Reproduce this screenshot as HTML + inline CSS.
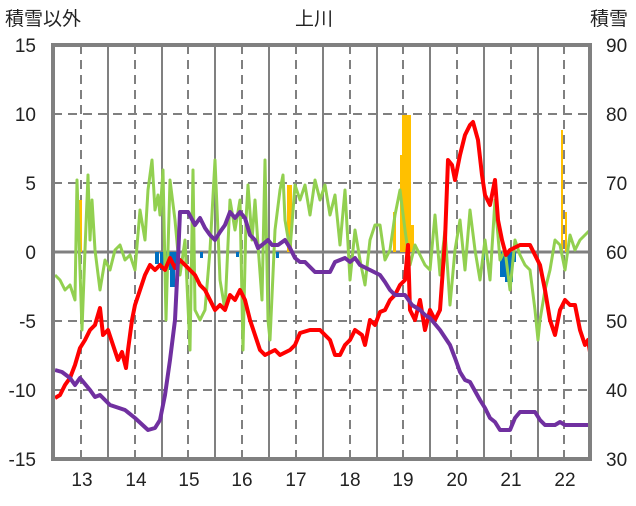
<!DOCTYPE html>
<html><head><meta charset="utf-8"><style>
body{margin:0;background:#fff;width:636px;height:501px;overflow:hidden}
svg text{font-family:"Liberation Sans","Noto Sans CJK JP",sans-serif;font-size:19px;fill:#222}
</style></head><body>
<svg width="636" height="501" xmlns="http://www.w3.org/2000/svg">
<g stroke="#808080" stroke-width="2">
<line x1="53" y1="114" x2="590" y2="114" stroke-dasharray="9,6"/>
<line x1="53" y1="183" x2="590" y2="183" stroke-dasharray="9,6"/>
<line x1="53" y1="321" x2="590" y2="321" stroke-dasharray="9,6"/>
<line x1="53" y1="390" x2="590" y2="390" stroke-dasharray="9,6"/>
<g stroke-dasharray="9,6">
<line x1="81" y1="45" x2="81" y2="459"/><line x1="135" y1="45" x2="135" y2="459"/><line x1="188" y1="45" x2="188" y2="459"/><line x1="242" y1="45" x2="242" y2="459"/><line x1="296" y1="45" x2="296" y2="459"/><line x1="350" y1="45" x2="350" y2="459"/><line x1="403" y1="45" x2="403" y2="459"/><line x1="457" y1="45" x2="457" y2="459"/><line x1="511" y1="45" x2="511" y2="459"/><line x1="564" y1="45" x2="564" y2="459"/>
</g>
<line x1="108" y1="45" x2="108" y2="459"/><line x1="162" y1="45" x2="162" y2="459"/><line x1="215" y1="45" x2="215" y2="459"/><line x1="269" y1="45" x2="269" y2="459"/><line x1="323" y1="45" x2="323" y2="459"/><line x1="377" y1="45" x2="377" y2="459"/><line x1="430" y1="45" x2="430" y2="459"/><line x1="484" y1="45" x2="484" y2="459"/><line x1="538" y1="45" x2="538" y2="459"/>
</g>
<line x1="53" y1="252" x2="590" y2="252" stroke="#808080" stroke-width="3"/>
<!-- bars -->
<g fill="#FFC000">
<rect x="79" y="200" width="3" height="52"/><rect x="287" y="185" width="5" height="67"/><rect x="393" y="212" width="3" height="40"/><rect x="400" y="155" width="3" height="97"/><rect x="402" y="115" width="9" height="137"/><rect x="411" y="225" width="3" height="27"/><rect x="561" y="130" width="2" height="122"/><rect x="565" y="212" width="2" height="40"/>
</g>
<g fill="#0070C0">
<rect x="155" y="252" width="4" height="12"/><rect x="160" y="252" width="10" height="18"/><rect x="170" y="252" width="5" height="35"/><rect x="175" y="252" width="4" height="12"/><rect x="200" y="252" width="3" height="6"/><rect x="236" y="252" width="3" height="5"/><rect x="276" y="252" width="3" height="6"/><rect x="482" y="252" width="3" height="8"/><rect x="500" y="252" width="5" height="25"/><rect x="505" y="252" width="8" height="30"/><rect x="513" y="252" width="3" height="10"/>
</g>
<polyline fill="none" stroke="#92D050" stroke-width="3" stroke-linejoin="round" points="55,275 60,280 65,290 70,285 75,300 77,180 80,270 82,330 85,250 88,175 90,240 92,200 95,250 100,290 105,260 110,270 115,250 120,245 125,260 130,255 135,270 140,210 145,240 148,190 152,160 155,210 158,195 160,215 163,170 166,320 170,180 175,220 180,275 185,240 190,350 193,170 195,310 200,320 205,310 210,250 215,160 220,280 225,310 230,200 235,230 240,200 243,350 246,220 248,185 252,240 255,200 258,245 262,300 265,160 268,320 270,340 275,230 280,190 283,175 285,220 290,250 295,185 300,200 305,185 310,215 315,180 320,200 325,185 330,215 335,195 340,245 345,190 350,280 355,230 360,260 365,285 370,240 375,225 380,225 385,260 390,250 395,215 400,190 405,230 410,265 415,245 420,255 425,265 430,270 435,215 440,275 445,230 450,305 455,250 460,220 465,270 470,210 475,250 480,280 485,240 490,280 495,200 500,260 505,250 510,290 515,240 520,255 525,265 530,270 535,310 538,340 540,320 545,290 550,270 555,240 560,245 565,270 570,235 575,250 580,240 585,235 590,230"/>
<polyline fill="none" stroke="#FF0000" stroke-width="4" stroke-linejoin="round" points="55,398 60,395 65,385 70,378 75,365 80,348 85,340 90,330 95,325 100,308 103,335 108,330 113,345 118,360 122,352 126,368 128,350 132,320 135,305 140,290 145,275 150,265 155,270 160,265 165,270 170,258 175,268 180,260 185,265 190,270 195,275 200,285 205,290 210,300 215,310 220,305 225,310 230,295 235,300 240,290 245,300 250,320 255,335 260,350 265,355 275,350 280,355 290,350 295,345 300,333 310,330 320,330 330,340 335,355 340,355 345,345 350,340 355,330 362,335 365,345 370,320 375,325 380,312 385,310 390,300 395,295 400,285 405,280 408,245 410,310 415,320 420,300 425,330 430,310 435,320 440,310 445,240 448,160 452,165 455,180 460,155 465,135 470,125 473,122 478,140 482,175 485,195 490,205 495,180 498,220 502,240 506,255 510,250 520,245 530,245 540,265 545,290 550,320 555,335 560,310 565,300 570,305 575,305 580,330 585,345 588,340 590,352"/>
<polyline fill="none" stroke="#7030A0" stroke-width="4" stroke-linejoin="round" points="55,370 62,372 70,378 75,385 80,378 90,390 95,397 100,395 110,405 125,410 135,418 148,430 155,428 160,420 165,395 170,360 175,320 178,260 180,212 188,212 195,225 200,218 205,228 210,235 215,240 220,232 225,225 230,212 235,218 240,212 245,218 250,235 255,240 258,248 262,245 268,240 272,245 278,245 285,240 290,248 295,258 300,262 305,262 315,272 330,272 335,262 345,258 350,262 355,258 360,265 370,270 380,275 385,282 390,290 395,295 405,295 412,305 420,310 425,315 430,318 440,330 450,345 455,358 460,372 465,380 470,382 480,400 485,408 490,418 495,422 500,430 505,430 510,430 515,418 520,412 535,412 540,420 545,425 555,425 560,422 565,425 590,425"/>
<rect x="53" y="45" width="537" height="414" fill="none" stroke="#808080" stroke-width="4"/>
<g text-anchor="end">
<text x="36" y="52">15</text><text x="36" y="121">10</text><text x="36" y="190">5</text><text x="36" y="259">0</text><text x="36" y="328">-5</text><text x="36" y="397">-10</text><text x="36" y="466">-15</text>
</g>
<g text-anchor="start">
<text x="606" y="52">90</text><text x="606" y="121">80</text><text x="606" y="190">70</text><text x="606" y="259">60</text><text x="606" y="328">50</text><text x="606" y="397">40</text><text x="606" y="466">30</text>
</g>
<g text-anchor="middle">
<text x="82" y="486">13</text><text x="136" y="486">14</text><text x="189" y="486">15</text><text x="242" y="486">16</text><text x="296" y="486">17</text><text x="350" y="486">18</text><text x="403" y="486">19</text><text x="457" y="486">20</text><text x="511" y="486">21</text><text x="565" y="486">22</text>
<text x="314" y="25">上川</text>
</g>
<text x="5" y="25">積雪以外</text>
<text x="590" y="25">積雪</text>
</svg>
</body></html>
